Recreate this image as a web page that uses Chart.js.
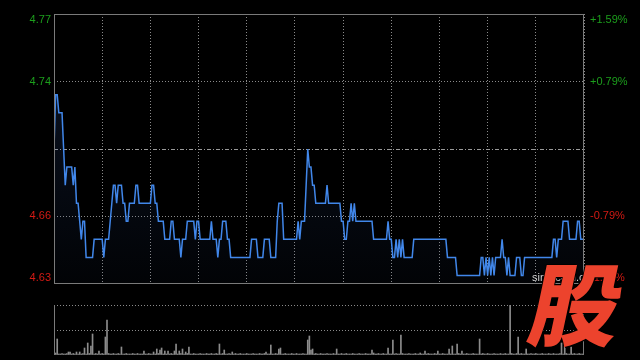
<!DOCTYPE html>
<html lang="zh-CN">
<head>
<meta charset="UTF-8">
<title>分时走势</title>
<script src="https://cdn.jsdelivr.net/npm/chart.js"></script>
<style>
  body { margin: 0; background: #000; width: 640px; height: 360px; overflow: hidden; position: relative; }
  #price { position: absolute; left: 0; top: 0; }
  #vol { position: absolute; left: 0; top: 300px; }
  #site { position: absolute; left: 532px; top: 271px; color: #cfcfcf; font: 11px "Liberation Sans", Arial, sans-serif; }
  #mark {
    position: absolute; left: 533px; top: 255px;
    font: 900 90px "Noto Sans CJK SC", sans-serif; line-height: 1;
    color: #ec432d; transform: skewX(-12deg);
    text-shadow: 1px 1px 0 #000, -1px -1px 0 #000;
  }
</style>
</head>
<body>
<canvas id="price" width="640" height="300"></canvas>
<canvas id="vol" width="640" height="60"></canvas>
<div id="site">sina.com.cn</div>
<div id="mark">股</div>
<script>
// 昨收 and the axis ticks as percent change from it
const prevClose = 4.70;
const pctTicks = [1.59, 0.79, -0.79, -1.59];
const priceLabels = ['4.77', '4.74', '4.66', '4.63'];
const pctLabels = ['+1.59%', '+0.79%', '-0.79%', '-1.59%'];
// HK session: 09:30-12:00, 13:00-16:00, one point a minute (331 points)
const halfHours = ['09:30', '10:00', '10:30', '11:00', '11:30', '12:00/13:00', '13:30', '14:00', '14:30', '15:00', '15:30', '16:00'];

const prices = [
  4.70, 4.73, 4.73, 4.72, 4.72, 4.72, 4.70, 4.68, 4.69, 4.69,
  4.69, 4.69, 4.68, 4.69, 4.67, 4.67, 4.66, 4.65, 4.66, 4.66,
  4.64, 4.64, 4.64, 4.64, 4.64, 4.65, 4.65, 4.65, 4.65, 4.65,
  4.65, 4.64, 4.65, 4.65, 4.65, 4.66, 4.67, 4.68, 4.68, 4.67,
  4.68, 4.68, 4.68, 4.67, 4.67, 4.66, 4.66, 4.67, 4.67, 4.67,
  4.67, 4.68, 4.68, 4.67, 4.67, 4.67, 4.67, 4.67, 4.67, 4.67,
  4.67, 4.68, 4.68, 4.67, 4.67, 4.66, 4.66, 4.66, 4.66, 4.65,
  4.65, 4.65, 4.65, 4.66, 4.66, 4.65, 4.65, 4.65, 4.65, 4.64,
  4.65, 4.65, 4.65, 4.66, 4.66, 4.66, 4.66, 4.66, 4.65, 4.66,
  4.66, 4.65, 4.65, 4.65, 4.65, 4.65, 4.65, 4.65, 4.66, 4.65,
  4.65, 4.65, 4.64, 4.65, 4.65, 4.66, 4.66, 4.66, 4.65, 4.65,
  4.64, 4.64, 4.64, 4.64, 4.64, 4.64, 4.64, 4.64, 4.64, 4.64,
  4.64, 4.64, 4.64, 4.65, 4.65, 4.65, 4.65, 4.64, 4.64, 4.64,
  4.64, 4.65, 4.65, 4.65, 4.65, 4.64, 4.64, 4.64, 4.64, 4.66,
  4.67, 4.67, 4.67, 4.65, 4.65, 4.65, 4.65, 4.65, 4.65, 4.65,
  4.65, 4.65, 4.66, 4.65, 4.66, 4.66, 4.66, 4.68, 4.70, 4.69,
  4.69, 4.68, 4.68, 4.67, 4.67, 4.67, 4.67, 4.67, 4.67, 4.67,
  4.68, 4.67, 4.67, 4.67, 4.67, 4.67, 4.67, 4.67, 4.67, 4.66,
  4.66, 4.65, 4.65, 4.66, 4.66, 4.67, 4.66, 4.67, 4.66, 4.66,
  4.66, 4.66, 4.66, 4.66, 4.66, 4.66, 4.66, 4.66, 4.66, 4.65,
  4.65, 4.65, 4.65, 4.65, 4.65, 4.65, 4.65, 4.65, 4.66, 4.65,
  4.65, 4.64, 4.64, 4.65, 4.64, 4.65, 4.64, 4.65, 4.64, 4.64,
  4.64, 4.64, 4.64, 4.64, 4.65, 4.65, 4.65, 4.65, 4.65, 4.65,
  4.65, 4.65, 4.65, 4.65, 4.65, 4.65, 4.65, 4.65, 4.65, 4.65,
  4.65, 4.65, 4.65, 4.65, 4.65, 4.64, 4.64, 4.64, 4.64, 4.64,
  4.64, 4.63, 4.63, 4.63, 4.63, 4.63, 4.63, 4.63, 4.63, 4.63,
  4.63, 4.63, 4.63, 4.63, 4.63, 4.63, 4.64, 4.64, 4.63, 4.64,
  4.63, 4.64, 4.63, 4.64, 4.63, 4.64, 4.64, 4.64, 4.64, 4.65,
  4.64, 4.64, 4.63, 4.64, 4.63, 4.63, 4.63, 4.63, 4.64, 4.64,
  4.64, 4.63, 4.63, 4.64, 4.64, 4.64, 4.64, 4.64, 4.64, 4.64,
  4.64, 4.64, 4.64, 4.64, 4.64, 4.64, 4.64, 4.64, 4.64, 4.64,
  4.64, 4.65, 4.65, 4.64, 4.65, 4.65, 4.65, 4.66, 4.66, 4.66,
  4.66, 4.65, 4.65, 4.65, 4.65, 4.65, 4.66, 4.66, 4.65, 4.65,
  4.65
];

// volume per minute (relative units, 100 = tallest bar)
const volumes = [
  8, 4, 32, 2, 2, 3, 2, 2, 3, 6,
  6, 2, 3, 2, 6, 2, 6, 2, 3, 14,
  2, 24, 3, 18, 42, 2, 3, 2, 8, 2,
  3, 2, 36, 70, 3, 2, 2, 3, 2, 2,
  3, 2, 16, 2, 2, 3, 2, 2, 2, 3,
  2, 2, 3, 2, 2, 2, 8, 2, 2, 3,
  2, 2, 6, 2, 12, 3, 10, 14, 2, 8,
  2, 8, 2, 3, 2, 8, 22, 2, 8, 3,
  12, 2, 6, 3, 16, 2, 2, 3, 2, 2,
  2, 3, 2, 2, 2, 3, 2, 2, 3, 2,
  2, 3, 2, 22, 2, 3, 10, 2, 2, 3,
  2, 6, 2, 3, 2, 2, 3, 2, 2, 2,
  3, 2, 2, 2, 3, 2, 2, 2, 3, 2,
  2, 3, 6, 2, 2, 20, 2, 2, 3, 2,
  12, 14, 2, 2, 3, 2, 2, 2, 3, 2,
  2, 3, 2, 2, 2, 3, 2, 2, 30, 38,
  10, 12, 2, 3, 2, 2, 3, 2, 2, 2,
  3, 2, 2, 2, 3, 2, 12, 2, 2, 3,
  2, 2, 3, 2, 2, 2, 3, 2, 2, 2,
  3, 2, 2, 2, 3, 2, 2, 2, 10, 4,
  2, 2, 3, 2, 2, 3, 2, 2, 14, 2,
  2, 30, 2, 3, 2, 2, 40, 3, 2, 2,
  2, 3, 2, 2, 2, 3, 2, 2, 4, 2,
  2, 8, 2, 3, 2, 2, 2, 3, 2, 8,
  2, 2, 3, 2, 2, 2, 12, 2, 18, 2,
  2, 22, 3, 2, 8, 2, 2, 3, 2, 2,
  2, 3, 2, 2, 2, 32, 2, 3, 2, 2,
  3, 2, 2, 2, 3, 2, 2, 2, 3, 2,
  2, 3, 2, 2, 100, 3, 2, 2, 3, 36,
  2, 3, 2, 2, 12, 2, 2, 3, 2, 2,
  3, 2, 2, 2, 3, 2, 2, 2, 3, 2,
  2, 3, 2, 2, 2, 3, 24, 2, 22, 3,
  2, 2, 16, 2, 3, 2, 2, 3, 2, 2,
  4
];

const UP = '#1c9e1c';
const DOWN = '#d41a14';
const GRID = '#8a8a8a';
const lastMinute = prices.length - 1;
const tickPrices = pctTicks.map(p => prevClose * (1 + p / 100));
const priceMax = tickPrices[0];
const priceMin = tickPrices[tickPrices.length - 1];

// solid frame lines around the plot area
const framePlugin = {
  id: 'frame',
  afterDraw(chart, args, opts) {
    const a = chart.chartArea;
    const c = chart.ctx;
    c.save();
    c.strokeStyle = '#7a7a7a';
    c.lineWidth = 1;
    c.beginPath();
    const l = Math.round(a.left) + 0.5, r = Math.round(a.right) - 0.5;
    const t = Math.round(a.top) + 0.5, b = Math.round(a.bottom) - 0.5;
    if (opts.sides.includes('left')) { c.moveTo(l, a.top); c.lineTo(l, a.bottom); }
    if (opts.sides.includes('right')) { c.moveTo(r, a.top); c.lineTo(r, a.bottom); }
    if (opts.sides.includes('top')) { c.moveTo(a.left, t); c.lineTo(a.right, t); }
    if (opts.sides.includes('bottom')) { c.moveTo(a.left, b); c.lineTo(a.right, b); }
    c.stroke();
    c.restore();
  }
};

// keep the first and last label inside the plot like the original
function pullLabelsIn(scale) {
  const base = Object.getPrototypeOf(scale).getPixelForTick;
  scale.getPixelForTick = function (i) {
    const px = base.call(this, i);
    return Math.min(Math.max(px, this.top + 6), this.bottom - 6);
  };
}

function labelAxis(position, texts, pad, width) {
  return {
    position: position,
    min: priceMin,
    max: priceMax,
    afterBuildTicks: s => { s.ticks = tickPrices.map(v => ({ value: v })); pullLabelsIn(s); },
    afterFit: s => { s.width = width; },
    grid: { display: false, drawTicks: false },
    border: { display: false },
    ticks: {
      padding: pad,
      color: ctx => pctTicks[ctx.index] > 0 ? UP : DOWN,
      font: { family: '"Liberation Sans", Arial, sans-serif', size: 11 },
      callback: (v, i) => texts[i]
    }
  };
}

function gridAxis(values, dash, color) {
  return {
    position: 'left',
    min: priceMin,
    max: priceMax,
    afterBuildTicks: s => { s.ticks = values.map(v => ({ value: v })); },
    afterFit: s => { s.width = 0; },
    ticks: { display: false },
    grid: { color: color, lineWidth: 1, drawTicks: false },
    border: { display: false, dash: dash }
  };
}

new Chart(document.getElementById('price'), {
  type: 'line',
  data: {
    datasets: [{
      label: '价格',
      data: prices.map((p, i) => ({ x: i, y: p })),
      borderColor: '#4187ea',
      borderWidth: 1.5,
      pointRadius: 0,
      tension: 0,
      fill: 'start',
      backgroundColor: ctx => {
        const a = ctx.chart.chartArea;
        if (!a) return 'rgba(0,0,0,0)';
        const g = ctx.chart.ctx.createLinearGradient(0, a.top, 0, a.bottom);
        g.addColorStop(0, 'rgba(45,80,150,0.26)');
        g.addColorStop(1, 'rgba(45,80,150,0.04)');
        return g;
      }
    }]
  },
  options: {
    responsive: false,
    animation: false,
    layout: { padding: { top: 14, bottom: 16, left: 0, right: 0 } },
    plugins: { legend: { display: false }, tooltip: { enabled: false }, frame: { sides: ['left', 'right', 'top', 'bottom'] } },
    scales: {
      x: {
        type: 'linear',
        min: 0,
        max: lastMinute,
        afterBuildTicks: s => { s.ticks = halfHours.map((t, i) => ({ value: i * 30 })); },
        afterFit: s => { s.height = 0; },
        ticks: { display: false },
        grid: { color: GRID, drawTicks: false },
        border: { display: false, dash: [1, 2] }
      },
      y: labelAxis('left', priceLabels, 3, 54),
      yR: labelAxis('right', pctLabels, 6, 56),
      yG: gridAxis([tickPrices[1], tickPrices[2]], [1, 2], GRID),
      yP: gridAxis([prevClose], [4, 2, 1, 2], '#9a9a9a')
    }
  },
  plugins: [framePlugin]
});

new Chart(document.getElementById('vol'), {
  type: 'bar',
  data: {
    datasets: [{
      label: '成交量',
      data: volumes.map((v, i) => ({ x: i, y: v })),
      backgroundColor: '#8c8c8c',
      barThickness: 1
    }]
  },
  options: {
    responsive: false,
    animation: false,
    layout: { padding: { top: 5, bottom: 5, left: 54, right: 56 } },
    plugins: { legend: { display: false }, tooltip: { enabled: false }, frame: { sides: ['left', 'right'] } },
    scales: {
      x: { type: 'linear', min: 0, max: lastMinute, offset: false, display: false },
      y: {
        min: 0,
        max: 100,
        afterFit: s => { s.width = 0; },
        ticks: { display: false, stepSize: 50 },
        grid: { color: ctx => ctx.tick.value === 0 ? 'rgba(0,0,0,0)' : GRID, drawTicks: false },
        border: { display: false, dash: [1, 2] }
      }
    }
  },
  plugins: [framePlugin]
});
</script>
</body>
</html>
